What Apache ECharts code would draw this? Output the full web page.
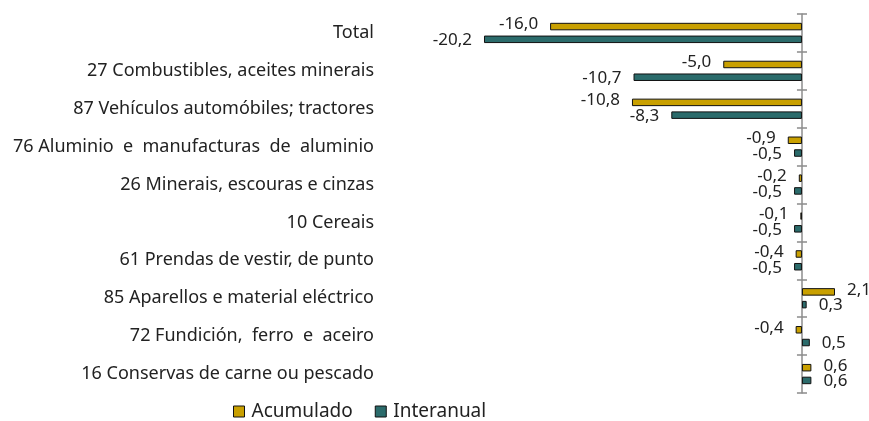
<!DOCTYPE html>
<html>
<head>
<meta charset="utf-8">
<script src="https://cdn.jsdelivr.net/npm/echarts@6/dist/echarts.min.js"></script>
<style>
  html, body { margin: 0; padding: 0; background: #fff; }
  #chart { width: 869px; height: 421px; }
</style>
</head>
<body>
<div id="chart"></div>
<script>
// categorias (de arriba a abajo)
var categories = [
  'Total',
  '27 Combustibles, aceites minerais',
  '87 Vehículos automóbiles; tractores',
  '76 Aluminio  e  manufacturas  de  aluminio',
  '26 Minerais, escouras e cinzas',
  '10 Cereais',
  '61 Prendas de vestir, de punto',
  '85 Aparellos e material eléctrico',
  '72 Fundición,  ferro  e  aceiro',
  '16 Conservas de carne ou pescado'
];
var acumulado = [-16.0, -5.0, -10.8, -0.9, -0.2, -0.1, -0.4, 2.1, -0.4, 0.6];
var interanual = [-20.2, -10.7, -8.3, -0.5, -0.5, -0.5, -0.5, 0.3, 0.5, 0.6];

var font = '"Noto Sans", sans-serif';

function fmt(v) {
  return v.toFixed(1).replace('.', ',');
}

// etiqueta fora do extremo segundo o signo
function toItems(arr, dy) {
  return arr.map(function (v) {
    return {
      value: v,
      label: {
        position: v < 0 ? 'left' : 'right',
        offset: [0, dy]
      }
    };
  });
}

var chart = echarts.init(document.getElementById('chart'));
chart.setOption({
  animation: false,
  textStyle: { fontFamily: font },
  grid: { left: 484, right: 34, top: 14, bottom: 28, containLabel: false, outerBoundsMode: 'none' },
  legend: {
    bottom: -5,
    left: 228,
    icon: 'rect',
    itemWidth: 11,
    itemHeight: 11,
    itemGap: 22,
    itemStyle: { borderColor: '#111', borderWidth: 1 },
    textStyle: { fontSize: 19, color: '#222', fontFamily: font, padding: [0, 0, 0, 2] },
    data: ['Acumulado', 'Interanual']
  },
  xAxis: {
    type: 'value',
    min: -20.2,
    max: 2.1,
    show: false
  },
  yAxis: [
    {
      type: 'category',
      inverse: true,
      data: categories,
      axisLine: { onZero: true, lineStyle: { color: '#8c8c8c', width: 1.5 } },
      axisTick: { show: true, length: 5, lineStyle: { color: '#8c8c8c', width: 1.5 } },
      axisLabel: { margin: 110, fontSize: 18, color: '#222', fontFamily: font }
    },
    {
      // marcas cara a dentro sobre o eixo do cero
      type: 'category',
      inverse: true,
      position: 'left',
      offset: -318,
      data: categories,
      axisLine: { show: false, onZero: false },
      axisTick: { show: true, inside: true, length: 5, lineStyle: { color: '#8c8c8c', width: 1.5 } },
      axisLabel: { show: false }
    }
  ],
  series: [
    {
      name: 'Acumulado',
      type: 'bar',
      data: toItems(acumulado, -2),
      barWidth: 7.5,
      barGap: '70%',
      itemStyle: { color: '#C9A000', borderColor: '#111', borderWidth: 1 },
      label: {
        show: true,
        distance: 12,
        fontSize: 17,
        color: '#222',
        fontFamily: font,
        formatter: function (p) { return fmt(p.value); }
      }
    },
    {
      name: 'Interanual',
      type: 'bar',
      data: toItems(interanual, 1),
      barWidth: 7.5,
      itemStyle: { color: '#2B6B6B', borderColor: '#111', borderWidth: 1 },
      label: {
        show: true,
        distance: 12,
        fontSize: 17,
        color: '#222',
        fontFamily: font,
        formatter: function (p) { return fmt(p.value); }
      }
    }
  ]
});
</script>
</body>
</html>
